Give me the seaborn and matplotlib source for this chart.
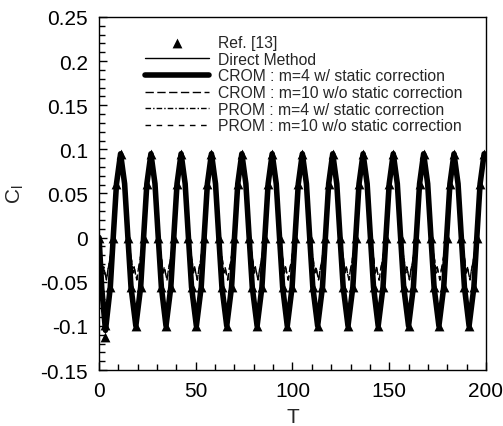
import matplotlib
matplotlib.use("Agg")
import matplotlib.pyplot as plt
import seaborn as sns
from matplotlib.ticker import MultipleLocator, FuncFormatter

# ---------------- data ----------------
# Direct method / converged ROM curves (lift coefficient vs time)
T_direct = [
    0.0, 1.4,
    3.3, 5.8, 7.3, 9.0, 11.1, 13.2, 14.9, 16.5,
    19.0, 21.5, 23.0, 24.7, 26.8, 28.9, 30.6, 32.2,
    34.6, 37.1, 38.6, 40.3, 42.4, 44.5, 46.2, 47.8,
    50.3, 52.8, 54.3, 56.0, 58.1, 60.2, 61.9, 63.5,
    66.0, 68.5, 70.0, 71.7, 73.8, 75.9, 77.6, 79.2,
    81.7, 84.2, 85.7, 87.4, 89.5, 91.6, 93.3, 94.9,
    97.3, 99.8, 101.3, 103.0, 105.1, 107.2, 108.9, 110.5,
    113.0, 115.5, 117.0, 118.7, 120.8, 122.9, 124.6, 126.2,
    128.7, 131.2, 132.7, 134.4, 136.5, 138.6, 140.3, 141.9,
    144.3, 146.8, 148.3, 150.0, 152.1, 154.2, 155.9, 157.5,
    160.0, 162.5, 164.0, 165.7, 167.8, 169.9, 171.6, 173.2,
    175.7, 178.2, 179.7, 181.4, 183.5, 185.6, 187.3, 188.9,
    191.3, 193.8, 195.3, 197.0, 199.1, 200.0,
]
CL_direct = [
    0.000, -0.058,
    -0.105, -0.056, 0.000, 0.061, 0.095, 0.061, 0.000, -0.056,
    -0.100, -0.056, 0.000, 0.061, 0.095, 0.061, 0.000, -0.056,
    -0.100, -0.056, 0.000, 0.061, 0.095, 0.061, 0.000, -0.056,
    -0.100, -0.056, 0.000, 0.061, 0.095, 0.061, 0.000, -0.056,
    -0.100, -0.056, 0.000, 0.061, 0.095, 0.061, 0.000, -0.056,
    -0.100, -0.056, 0.000, 0.061, 0.095, 0.061, 0.000, -0.056,
    -0.100, -0.056, 0.000, 0.061, 0.095, 0.061, 0.000, -0.056,
    -0.100, -0.056, 0.000, 0.061, 0.095, 0.061, 0.000, -0.056,
    -0.100, -0.056, 0.000, 0.061, 0.095, 0.061, 0.000, -0.056,
    -0.100, -0.056, 0.000, 0.061, 0.095, 0.061, 0.000, -0.056,
    -0.100, -0.056, 0.000, 0.061, 0.095, 0.061, 0.000, -0.056,
    -0.100, -0.056, 0.000, 0.061, 0.095, 0.061, 0.000, -0.056,
    -0.100, -0.056, 0.000, 0.061, 0.095, 0.092,
]
CL_crom4 = CL_direct   # CROM m=4 w/ static correction overlaps direct method
CL_prom4 = CL_direct   # PROM m=4 w/ static correction overlaps direct method

# Reference [13] sample points
T_ref = [
    0.0, 2.8, 3.3,
    5.8, 7.3, 9.0, 11.1, 14.9, 16.5,
    19.0, 21.5, 23.0, 24.7, 26.8, 30.6, 32.2,
    34.6, 37.1, 38.6, 40.3, 42.4, 46.2, 47.8,
    50.3, 52.8, 54.3, 56.0, 58.1, 61.9, 63.5,
    66.0, 68.5, 70.0, 71.7, 73.8, 77.6, 79.2,
    81.7, 84.2, 85.7, 87.4, 89.5, 93.3, 94.9,
    97.3, 99.8, 101.3, 103.0, 105.1, 108.9, 110.5,
    113.0, 115.5, 117.0, 118.7, 120.8, 124.6, 126.2,
    128.7, 131.2, 132.7, 134.4, 136.5, 140.3, 141.9,
    144.3, 146.8, 148.3, 150.0, 152.1, 155.9, 157.5,
    160.0, 162.5, 164.0, 165.7, 167.8, 171.6, 173.2,
    175.7, 178.2, 179.7, 181.4, 183.5, 187.3, 188.9,
    191.3, 193.8, 195.3, 197.0, 199.1,
]
CL_ref = [
    0.000, -0.099, -0.112,
    -0.056, 0.000, 0.061, 0.095, 0.000, -0.056,
    -0.100, -0.056, 0.000, 0.061, 0.095, 0.000, -0.056,
    -0.100, -0.056, 0.000, 0.061, 0.095, 0.000, -0.056,
    -0.100, -0.056, 0.000, 0.061, 0.095, 0.000, -0.056,
    -0.100, -0.056, 0.000, 0.061, 0.095, 0.000, -0.056,
    -0.100, -0.056, 0.000, 0.061, 0.095, 0.000, -0.056,
    -0.100, -0.056, 0.000, 0.061, 0.095, 0.000, -0.056,
    -0.100, -0.056, 0.000, 0.061, 0.095, 0.000, -0.056,
    -0.100, -0.056, 0.000, 0.061, 0.095, 0.000, -0.056,
    -0.100, -0.056, 0.000, 0.061, 0.095, 0.000, -0.056,
    -0.100, -0.056, 0.000, 0.061, 0.095, 0.000, -0.056,
    -0.100, -0.056, 0.000, 0.061, 0.095, 0.000, -0.056,
    -0.100, -0.056, 0.000, 0.061, 0.095,
]

# Without static correction: shallow wiggle near each trough (offset from trough time, value)
wiggle_dT = [-2.2, -1.5, -0.9, -0.2, 0.5, 1.2, 2.0]
wiggle_CL = [-0.026, -0.040, -0.033, -0.041, -0.048, -0.037, -0.028]

T_wo, CL_wo = [], []
for t, c in zip(T_direct, CL_direct):
    if c <= -0.09:
        T_wo += [t + d for d in wiggle_dT]
        CL_wo += wiggle_CL
    elif c < -0.05:
        continue
    else:
        T_wo.append(t)
        CL_wo.append(c)

labels = [
    "Ref. [13]",
    "Direct Method",
    "CROM : m=4 w/ static correction",
    "CROM : m=10 w/o static correction",
    "PROM : m=4 w/ static correction",
    "PROM : m=10 w/o static correction",
]

# ---------------- plotting ----------------
sns.set_style("ticks")
plt.rcParams["font.family"] = ["Liberation Sans", "DejaVu Sans"]
plt.rcParams["mathtext.default"] = "regular"

fig = plt.figure(figsize=(5.03, 4.27), dpi=100)
ax = fig.add_axes([0.197, 0.131, 0.769, 0.827])

common = dict(ax=ax, color="black", estimator=None, sort=False, errorbar=None)
sns.lineplot(x=T_direct, y=CL_crom4, lw=4.0, label=labels[2], zorder=2, **common)
sns.lineplot(x=T_direct, y=CL_direct, lw=1.0, label=labels[1], zorder=3, **common)
sns.lineplot(x=T_wo, y=CL_wo, lw=1.0, linestyle=(0, (6, 2.5)), label=labels[3], zorder=3, **common)
sns.lineplot(x=T_direct, y=CL_prom4, lw=1.0, linestyle=(0, (4, 1.5, 1, 1.5)), label=labels[4], zorder=3, **common)
sns.lineplot(x=T_wo, y=CL_wo, lw=1.0, linestyle=(0, (4, 4)), label=labels[5], zorder=3, **common)
sns.scatterplot(x=T_ref, y=CL_ref, ax=ax, marker="^", s=50, color="black",
                edgecolor="black", linewidth=0, label=labels[0], zorder=5)

handles, labs = ax.get_legend_handles_labels()
hmap = dict(zip(labs, handles))
leg = ax.legend([hmap[l] for l in labels], labels, loc="upper left",
                bbox_to_anchor=(0.118, 0.948), frameon=False, fontsize=11.3,
                handlelength=4.1, handletextpad=0.6, labelspacing=0.1,
                borderpad=0, borderaxespad=0)

ax.set_xlim(0, 200)
ax.set_ylim(-0.15, 0.25)
ax.xaxis.set_major_locator(MultipleLocator(50))
ax.xaxis.set_minor_locator(MultipleLocator(10))
ax.yaxis.set_major_locator(MultipleLocator(0.05))
ax.yaxis.set_minor_locator(MultipleLocator(0.01))
ax.yaxis.set_major_formatter(FuncFormatter(lambda v, p: "%g" % (round(v, 3) + 0.0)))
ax.xaxis.set_major_formatter(FuncFormatter(lambda v, p: "%g" % (round(v, 3) + 0.0)))

ax.tick_params(which="both", direction="in", top=False, right=False,
               width=1.0, colors="black", labelsize=15, pad=8)
ax.tick_params(which="major", length=6)
ax.tick_params(which="minor", length=4)
for s in ax.spines.values():
    s.set_linewidth(1.0)
    s.set_color("black")

ax.set_xlabel("T", fontsize=15, labelpad=5)
ax.set_ylabel("C$_l$", fontsize=15, labelpad=10)

fig.savefig("out.png", dpi=100)
